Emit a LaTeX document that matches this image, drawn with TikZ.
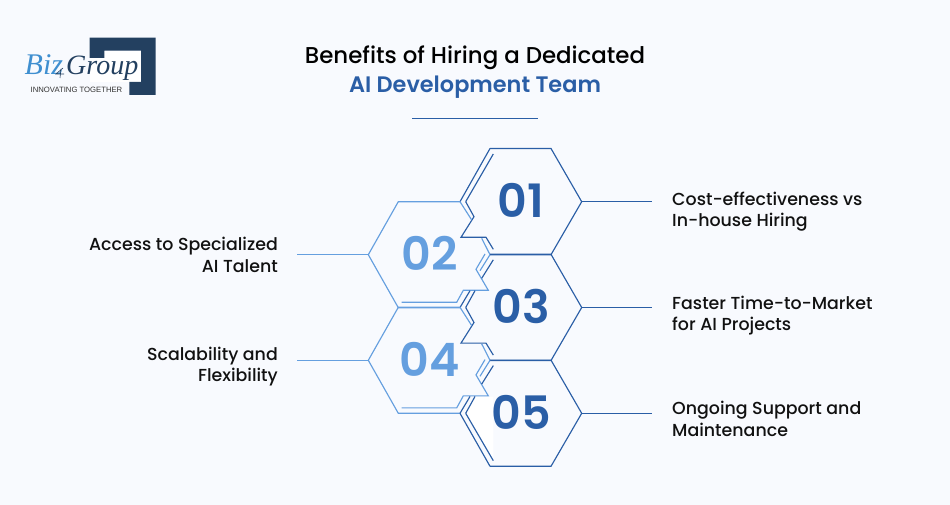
\documentclass[tikz,border=0pt]{standalone}
\usepackage{fontspec}
\setmainfont{Poppins}[UprightFont=* Medium,BoldFont=* SemiBold,ItalicFont=* Medium Italic]
\newfontfamily\logoserif{Liberation Serif}[Scale=1]
\newfontfamily\logosans{Liberation Sans}
\definecolor{pagebg}{HTML}{F8FAFE}
\definecolor{deepblue}{HTML}{2A5EA6}
\definecolor{softblue}{HTML}{659FDF}
\definecolor{navy}{HTML}{234060}
\definecolor{bizblue}{HTML}{3F8FD0}
\definecolor{inkblack}{HTML}{111111}
\tikzset{
  x=1pt,y=-1pt,
  deepline/.style={draw=deepblue,line width=1.15pt,line join=miter},
  softline/.style={draw=softblue,line width=1.15pt,line join=miter},
  deepnum/.style={text=deepblue,font=\fontsize{46}{46}\selectfont\bfseries,inner sep=0pt},
  softnum/.style={text=softblue,font=\fontsize{46}{46}\selectfont\bfseries,inner sep=0pt},
  rlabel/.style={text=inkblack,font=\fontsize{17.4}{21.7}\selectfont,align=left,anchor=west,inner sep=0pt},
  llabel/.style={text=inkblack,font=\fontsize{17.4}{21.7}\selectfont,align=right,anchor=east,inner sep=0pt},
}
% the part all three dark hexagons share: top, right side, bottom
\newcommand{\deepbody}[3]{%
  \coordinate (#2c) at (521,#1);
  \coordinate (#2r) at (581.7,#1);
  \draw[deepline] ([shift={(-31,-53.2)}]#2c) -- ([shift={(30,-53.2)}]#2c) -- (#2r) -- ([shift={(30,53)}]#2c) -- ([shift={(-31,53)}]#2c);
  \node[deepnum] (#2) at (521,#1-1) {#3};
}
% the notch that 01 and 03 have at their lower left
\newcommand{\deepnotch}[1]{%
  \draw[deepline] ([shift={(-27.7,47.6)}]#1c) -- ([shift={(-35,35.6)}]#1c) -- ([shift={(-60,35.6)}]#1c) -- ([shift={(-47,15)}]#1c) -- ([shift={(-55.3,0)}]#1c);
}
% upper left of 03 and 05, partly behind the notch of the light hexagon
\newcommand{\deepupper}[1]{%
  \draw[deepline] ([shift={(-61,0)}]#1c) -- ([shift={(-51,-16.8)}]#1c);
  \draw[deepline] ([shift={(-55.3,0)}]#1c) -- ([shift={(-46,-16.8)}]#1c);
  \draw[deepline] ([shift={(-39.3,-29.2)}]#1c) -- ([shift={(-27.7,-47.7)}]#1c);
}
% light hexagon
\newcommand{\softhex}[3]{%
  \coordinate (#2c) at (429,#1);
  \coordinate (#2l) at (368.3,#1);
  \draw[softline] ([shift={(42.7,-34.7)}]#2c) -- ([shift={(31,-53)}]#2c) -- ([shift={(-30.7,-53)}]#2c) -- (#2l) -- ([shift={(-30.7,53)}]#2c) -- ([shift={(31,53)}]#2c);
  \draw[softline] ([shift={(52.7,-16.4)}]#2c) -- ([shift={(61,0)}]#2c) -- ([shift={(51,16)}]#2c);
  \draw[softline] ([shift={(-27.3,47.6)}]#2c) -- ([shift={(27.7,47.6)}]#2c) -- ([shift={(34.3,35.6)}]#2c) -- ([shift={(59.3,35.6)}]#2c) -- ([shift={(47,14.6)}]#2c) -- ([shift={(56,-0.7)}]#2c);
  \node[softnum] (#2) at (429.5,#1-1) {#3};
}
\begin{document}
\begin{tikzpicture}
\useasboundingbox (0,0) rectangle (950,505);
\fill[pagebg] (0,0) rectangle (950,505);
% logo
\fill[white] (89.7,58) rectangle (141,82);
\fill[white] (104.3,50.7) rectangle (141,58);
\fill[navy] (89.7,37.7) -- (155.5,37.7) -- (155.5,95) -- (129.3,95) -- (129.3,82) -- (141,82) -- (141,50.7) -- (104.3,50.7) -- (104.3,58) -- (89.7,58) -- cycle;
\node[inner sep=0pt,anchor=base west,text=bizblue,font=\logoserif\itshape\fontsize{30}{30}\selectfont] (biz) at (24.5,75) {Biz};
\node[inner sep=0pt,anchor=base west,text=navy,font=\logoserif\itshape\fontsize{28}{28}\selectfont] (grp) at (66,75) {Group};
\draw[navy,line width=0.6pt] (63,68) -- (56,74) -- (64,74) (61,69) -- (60,78);
\node[inner sep=0pt,anchor=base,text=black!80,font=\logosans\fontsize{7.7}{8}\selectfont] (tag) at (76.5,92.5) {INNOVATING TOGETHER};
% title
\node[inner sep=0pt,text=black,font=\fontsize{22.9}{24}\selectfont] (t1) at (475,57.5) {Benefits of Hiring a Dedicated};
\node[inner sep=0pt,text=deepblue,font=\fontsize{22.4}{24}\selectfont\bfseries] (t2) at (475,87.5) {AI Development Team};
\coordinate (ul) at (412,118.5); \coordinate (ur) at (538,118.5);
\draw[deepblue,line width=1.9pt] (ul) -- (ur);
% white patch inside 05
\fill[white] (465.7,413.3) -- (475,396.5) -- (493.3,396.5) -- (493.3,460.7) -- cycle;
% hexagons
\deepbody{201.7}{a}{01}
\deepnotch{a}
\draw[deepline] ([shift={(-55.3,0)}]ac) -- ([shift={(-27.7,-47.7)}]ac);
\draw[deepline] ([shift={(-61,0)}]ac) -- ([shift={(-31,-53.2)}]ac);
\softhex{254.7}{b}{02}
\deepbody{307.5}{c}{03}
\deepnotch{c}
\deepupper{c}
\softhex{360.3}{d}{04}
\deepbody{413.3}{e}{05}
\deepupper{e}
\draw[deepline] ([shift={(-61,0)}]ec) -- ([shift={(-31,53)}]ec);
\draw[deepline] ([shift={(-55.3,0)}]ec) -- ([shift={(-27.7,47.4)}]ec);
% labels
\node[rlabel] (la) at (672,211.7) {Cost-effectiveness vs\\In-house Hiring};
\node[llabel] (lb) at (278,255.2) {Access to Specialized\\AI Talent};
\node[rlabel] (lc) at (672,315.7) {Faster Time-to-Market\\for AI Projects};
\node[llabel] (ld) at (278,366.7) {Scalability and\\Flexibility};
\node[rlabel] (le) at (672,419.2) {Ongoing Support and\\Maintenance};
% leaders
\coordinate (ea) at (652,201.7); \coordinate (eb) at (297,254.7);
\coordinate (ec) at (652,307.5); \coordinate (ed) at (297,360.3); \coordinate (ee) at (652,413.3);
\draw[deepline] (ar) -- (ea);
\draw[softline] (bl) -- (eb);
\draw[deepline] (cr) -- (ec);
\draw[softline] (dl) -- (ed);
\draw[deepline] (er) -- (ee);
\end{tikzpicture}
\end{document}
